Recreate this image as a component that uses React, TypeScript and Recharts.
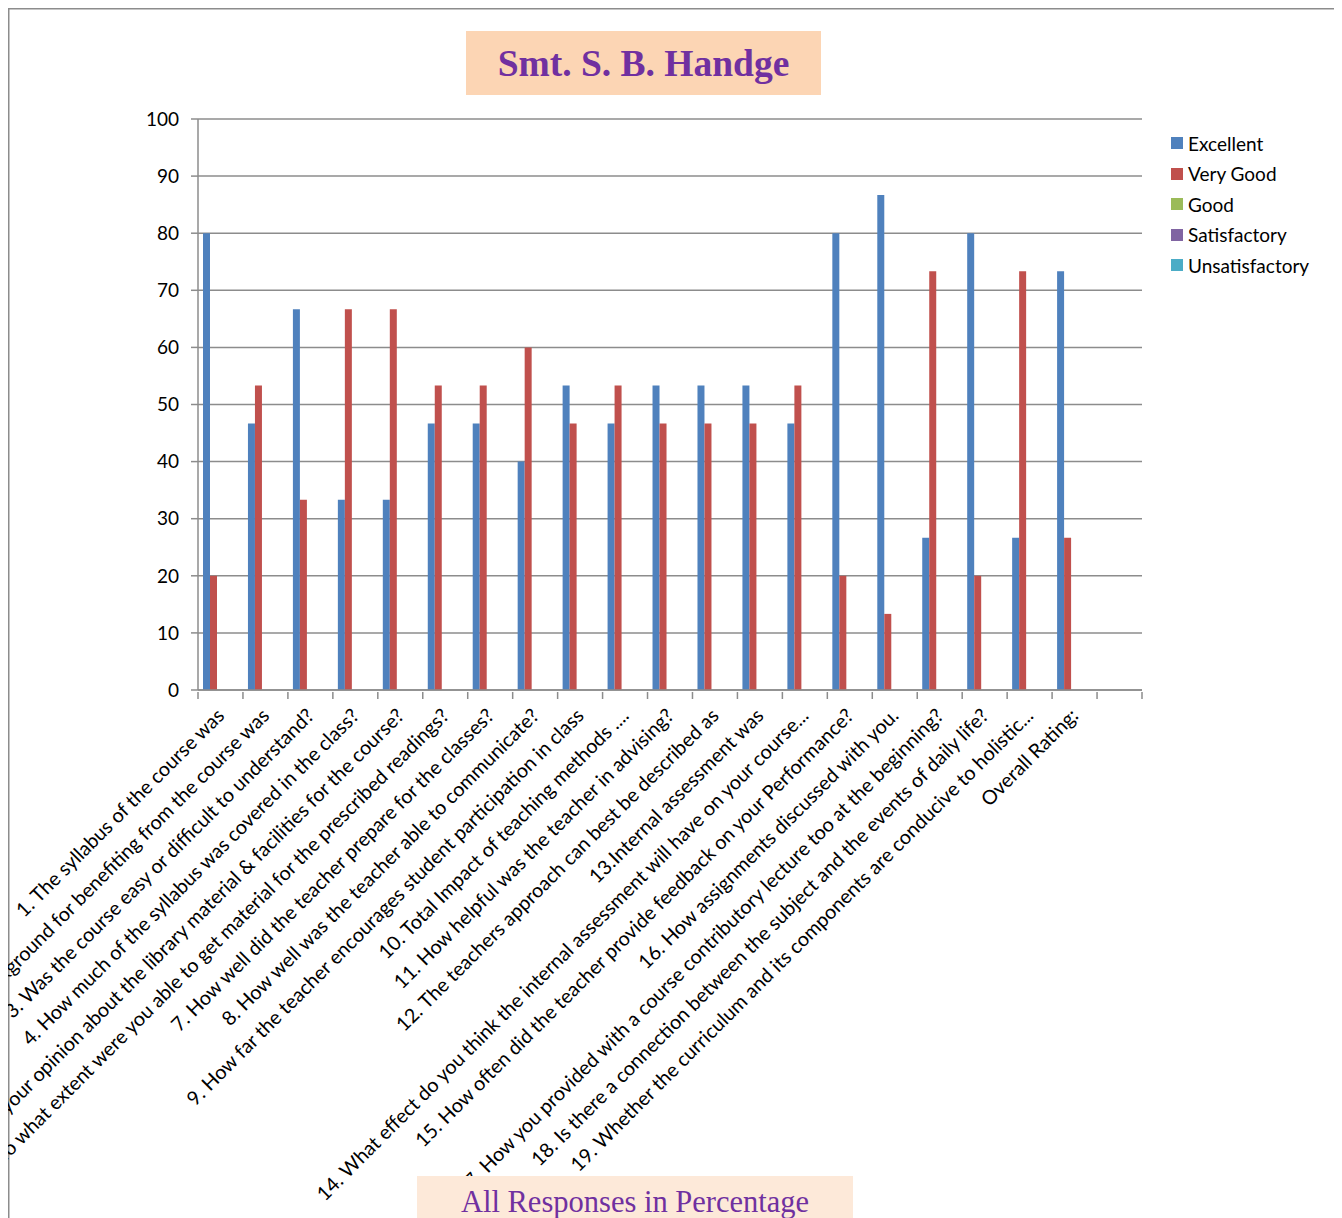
import { BarChart, Bar, XAxis, YAxis, CartesianGrid, Legend } from "recharts";

const questions = [
  "1. The syllabus of the course was",
  "2. How much background for benefiting from the course was",
  "3. Was the course easy or difficult to understand?",
  "4. How much of the syllabus was covered in the class?",
  "5. What is your opinion about the library material & facilities for the course?",
  "6. To what extent were you able to get material for the prescribed readings?",
  "7. How well did the teacher prepare for the classes?",
  "8. How well was the teacher able to communicate?",
  "9. How far the teacher encourages student participation in class",
  "10. Total Impact of teaching methods ....",
  "11. How helpful was the teacher in advising?",
  "12. The teachers approach can best be described as",
  "13.Internal assessment was",
  "14. What effect do you think the internal assessment will have on your course...",
  "15. How often did the teacher provide feedback on your Performance?",
  "16. How assignments discussed with you.",
  "17. How you provided with a course contributory lecture too at the beginning?",
  "18. Is there a connection between the subject and the events of daily life?",
  "19. Whether the curriculum and its components are conducive to holistic...",
  "Overall Rating:",
  "",
];

const excellent = [80, 46.67, 66.67, 33.33, 33.33, 46.67, 46.67, 40, 53.33, 46.67, 53.33, 53.33, 53.33, 46.67, 80, 86.67, 26.67, 80, 26.67, 73.33, null];
const veryGood = [20, 53.33, 33.33, 66.67, 66.67, 53.33, 53.33, 60, 46.67, 53.33, 46.67, 46.67, 46.67, 53.33, 20, 13.33, 73.33, 20, 73.33, 26.67, null];
const good = [0, 0, 0, 0, 0, 0, 0, 0, 0, 0, 0, 0, 0, 0, 0, 0, 0, 0, 0, 0, null];
const satisfactory = [0, 0, 0, 0, 0, 0, 0, 0, 0, 0, 0, 0, 0, 0, 0, 0, 0, 0, 0, 0, null];
const unsatisfactory = [0, 0, 0, 0, 0, 0, 0, 0, 0, 0, 0, 0, 0, 0, 0, 0, 0, 0, 0, 0, null];

const yTicks = [0, 10, 20, 30, 40, 50, 60, 70, 80, 90, 100];

const series = [
  { key: "excellent", name: "Excellent", color: "#4F81BD" },
  { key: "veryGood", name: "Very Good", color: "#C0504D" },
  { key: "good", name: "Good", color: "#9BBB59" },
  { key: "satisfactory", name: "Satisfactory", color: "#8064A2" },
  { key: "unsatisfactory", name: "Unsatisfactory", color: "#4BACC6" },
];

const data = questions.map((q, i) => ({
  q,
  excellent: excellent[i],
  veryGood: veryGood[i],
  good: good[i],
  satisfactory: satisfactory[i],
  unsatisfactory: unsatisfactory[i],
}));

const FONT = "Lato, 'Noto Sans', sans-serif";
const GRID = "#8c8c8c";
const PLOT_W = 944;
const HALF = PLOT_W / questions.length / 2;
const LEGEND_W = 160;

function QuestionTick(props: any) {
  const { x, y, payload, index } = props;
  const ax = x + 5;
  const ay = y + 25;
  return (
    <g>
      <line x1={x - HALF} y1={y} x2={x - HALF} y2={y + 7} stroke={GRID} strokeWidth={1.5} />
      {index === questions.length - 1 && (
        <line x1={x + HALF} y1={y} x2={x + HALF} y2={y + 7} stroke={GRID} strokeWidth={1.5} />
      )}
      <text
        x={ax}
        y={ay}
        transform={`rotate(-45 ${ax} ${ay})`}
        textAnchor="end"
        fontSize={19.8}
        fontFamily={FONT}
        fill="#000"
      >
        {payload.value}
      </text>
    </g>
  );
}

function SideLegend() {
  return (
    <div style={{ fontFamily: FONT, fontSize: 19, color: "#000" }}>
      {series.map((s) => (
        <div key={s.key} style={{ display: "flex", alignItems: "center", height: 30.5 }}>
          <span style={{ width: 12, height: 12, background: s.color, marginRight: 5, display: "inline-block" }} />
          {s.name}
        </div>
      ))}
    </div>
  );
}

export default function App() {
  return (
    <div
      style={{
        position: "relative",
        width: 1330,
        height: 1240,
        boxShadow: "inset 0 0 0 1.5px #8c8c8c",
      }}
    >
      <BarChart
        width={1330}
        height={1240}
        data={data}
        margin={{ top: 111, right: 196 - LEGEND_W, bottom: 0, left: 0 }}
        barSize={7}
        barGap={0}
      >
        <CartesianGrid vertical={false} stroke={GRID} strokeWidth={1.5} />
        <XAxis
          dataKey="q"
          interval={0}
          height={558}
          tickSize={0}
          tickLine={false}
          axisLine={{ stroke: GRID, strokeWidth: 1.5 }}
          tick={<QuestionTick />}
        />
        <YAxis
          width={190}
          domain={[0, 100]}
          ticks={yTicks}
          tickSize={7}
          tickMargin={12}
          tickLine={{ stroke: GRID, strokeWidth: 1.5 }}
          axisLine={{ stroke: GRID, strokeWidth: 1.5 }}
          tick={{ fontSize: 19, fontFamily: FONT, fill: "#000" }}
        />
        <Legend
          layout="vertical"
          align="right"
          verticalAlign="top"
          content={<SideLegend />}
          wrapperStyle={{ position: "absolute", left: 1163, top: 120, width: LEGEND_W }}
        />
        {series.map((s) => (
          <Bar key={s.key} dataKey={s.key} name={s.name} fill={s.color} isAnimationActive={false} />
        ))}
      </BarChart>
      <div
        style={{
          position: "absolute",
          left: 458,
          top: 23,
          width: 355,
          height: 64,
          background: "#FCD5B4",
          display: "flex",
          alignItems: "center",
          justifyContent: "center",
          fontFamily: "'Liberation Serif', 'DejaVu Serif', serif",
          fontWeight: "bold",
          fontSize: 37.5,
          color: "#7030A0",
        }}
      >
        Smt. S. B. Handge
      </div>
      <div
        style={{
          position: "absolute",
          left: 409,
          top: 1168,
          width: 436,
          height: 60,
          background: "#FDE9D9",
          textAlign: "center",
          paddingTop: 9,
          boxSizing: "border-box",
          fontFamily: "'Liberation Serif', 'DejaVu Serif', serif",
          fontSize: 30.5,
          color: "#7030A0",
        }}
      >
        All Responses in Percentage
      </div>
    </div>
  );
}
